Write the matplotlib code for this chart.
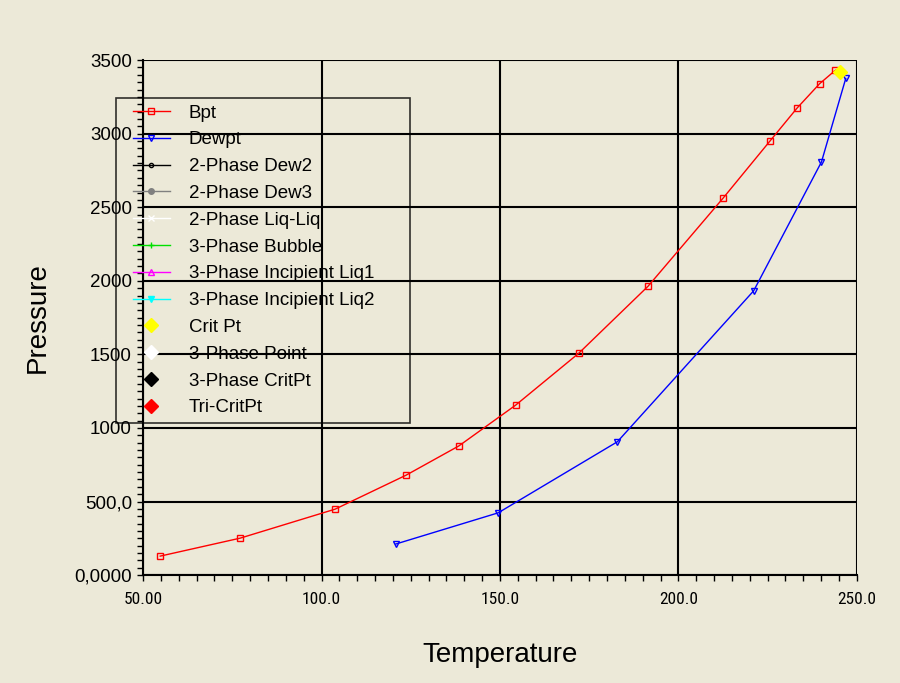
import matplotlib
matplotlib.use("Agg")
import matplotlib.pyplot as plt
from matplotlib import font_manager
from matplotlib.lines import Line2D
from matplotlib.legend_handler import HandlerLine2D
from matplotlib.ticker import MultipleLocator, FixedLocator

# Bubble point curve
bpt_t = [54.8, 77.2, 103.8, 123.7, 138.5, 154.4, 172.1, 191.5, 212.5, 225.7, 233.3, 239.6, 244.0]
bpt_p = [129, 251, 448, 679, 878, 1155, 1508, 1963, 2561, 2951, 3175, 3340, 3431]

# Dew point curve
dew_t = [120.8, 149.5, 182.9, 221.1, 240.1, 246.9]
dew_p = [211, 423, 906, 1932, 2808, 3375]

# Critical point
crit_t = [245.2]
crit_p = [3420]

x_ticks = [50, 100, 150, 200, 250]
x_labels = ["50.00", "100.0", "150.0", "200.0", "250.0"]
y_ticks = [0, 500, 1000, 1500, 2000, 2500, 3000, 3500]
y_labels = ["0,0000", "500,0", "1000", "1500", "2000", "2500", "3000", "3500"]

bg = "#ECE9D8"
sans = ["Liberation Sans", "DejaVu Sans"]

# narrow face for the temperature tick labels, whichever is installed
have = {f.name for f in font_manager.fontManager.ttflist}
narrow = [n for n in ["Liberation Sans Narrow", "Arial Narrow", "Roboto Condensed",
                      "PT Sans Narrow", "Archivo Narrow"] if n in have][:1] + sans

plt.rcParams['font.family'] = sans

fig = plt.figure(figsize=(9, 6.83), dpi=100, facecolor=bg)
ax = fig.add_axes([0.159, 0.158, 0.793, 0.754])
ax.set_facecolor(bg)

ax.plot(bpt_t, bpt_p, color="red", lw=1, marker="s", ms=5, mfc="none", mew=1, label="Bpt", zorder=3)
ax.plot(dew_t, dew_p, color="blue", lw=1, marker="v", ms=5, mfc="none", mew=1, label="Dewpt", zorder=3)
# series with no points still show up in the legend
ax.plot([], [], color="black", lw=1, marker="o", ms=3, mfc="none", label="2-Phase Dew2")
ax.plot([], [], color="gray", lw=1, marker="o", ms=4, label="2-Phase Dew3")
ax.plot([], [], color="white", lw=1, marker="x", ms=4, label="2-Phase Liq-Liq")
ax.plot([], [], color="#00e000", lw=1, marker="+", ms=5, label="3-Phase Bubble")
ax.plot([], [], color="magenta", lw=1, marker="^", ms=5, mfc="none", label="3-Phase Incipient Liq1")
ax.plot([], [], color="cyan", lw=1, marker="v", ms=5, label="3-Phase Incipient Liq2")
ax.plot(crit_t, crit_p, ls="none", color="yellow", marker="D", ms=7, label="Crit Pt", zorder=4)
ax.plot([], [], ls="none", color="white", marker="D", ms=7, label="3-Phase Point")
ax.plot([], [], ls="none", color="black", marker="D", ms=7, label="3-Phase CritPt")
ax.plot([], [], ls="none", color="red", marker="D", ms=7, label="Tri-CritPt")

ax.set_xlim(50, 250)
ax.set_ylim(0, 3500)
ax.xaxis.set_major_locator(FixedLocator(x_ticks))
ax.yaxis.set_major_locator(FixedLocator(y_ticks))
ax.set_xticklabels(x_labels, family=narrow, fontsize=12.5)
ax.set_yticklabels(y_labels, fontsize=13.5)
ax.xaxis.set_minor_locator(MultipleLocator(5))
ax.yaxis.set_minor_locator(MultipleLocator(50))
ax.tick_params(which="both", direction="out", color="black", width=1, length=4)
ax.tick_params(axis="x", which="major", pad=8.5)
ax.tick_params(axis="y", which="major", pad=4)
ax.grid(True, which="major", color="black", lw=1.5)
ax.set_axisbelow(True)

for side in ["top", "right"]:
    ax.spines[side].set_visible(False)
for side in ["left", "bottom"]:
    ax.spines[side].set_linewidth(1.5)

ax.set_xlabel("Temperature", fontsize=20, labelpad=25)
ax.set_ylabel("Pressure", fontsize=20, labelpad=17)

leg = ax.legend(loc="upper left", bbox_to_anchor=(-0.038, 0.926, 0.412, 0.0), mode="expand",
                frameon=True, fancybox=False, labelspacing=0.515,
                handlelength=2.53, handletextpad=1.0, borderpad=0.34, borderaxespad=0,
                handler_map={Line2D: HandlerLine2D(xpad=0.56)},
                prop={"family": sans, "size": 13.5})
leg.get_frame().set_facecolor("none")
leg.get_frame().set_edgecolor("black")
leg.get_frame().set_linewidth(1.2)

fig.savefig("out.png", dpi=100, facecolor=bg)
